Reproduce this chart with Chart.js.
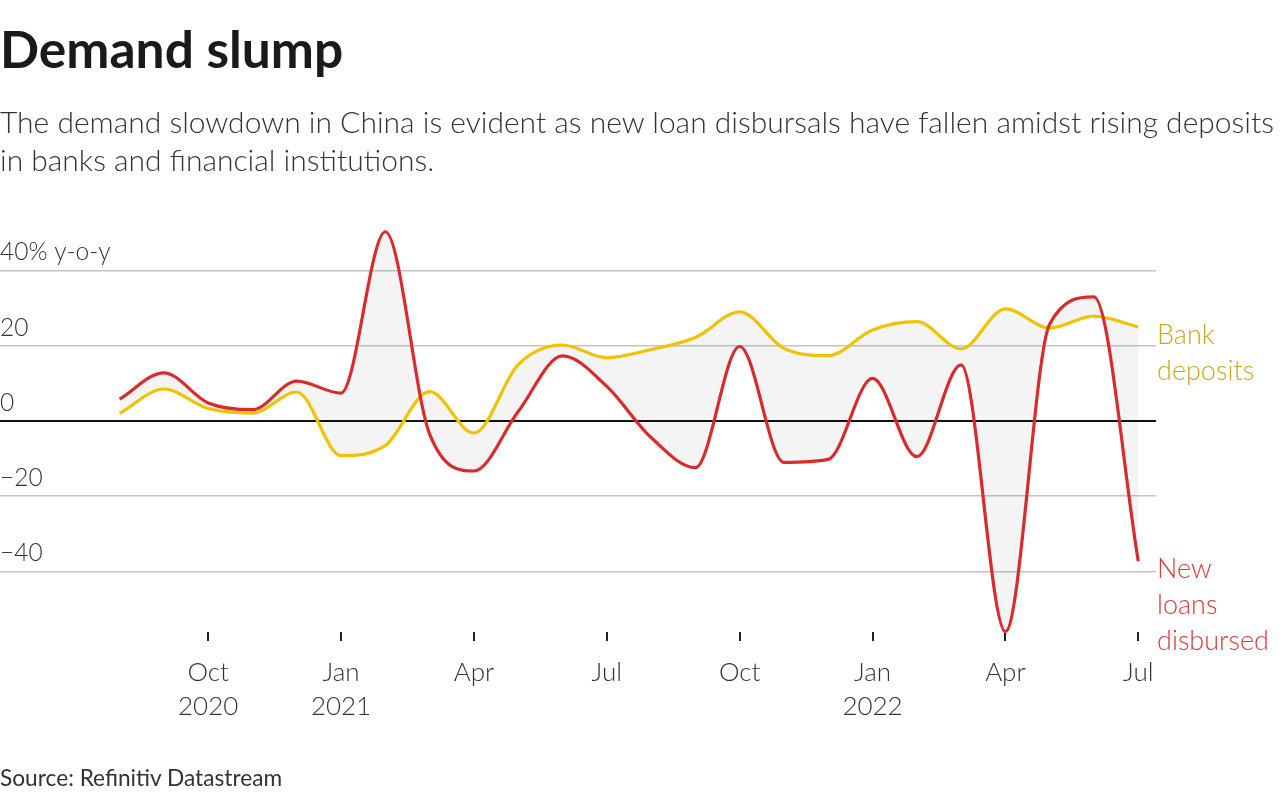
<!DOCTYPE html>
<html>
<head>
<meta charset="utf-8">
<script src="https://cdn.jsdelivr.net/npm/chart.js@4"></script>
<style>
    body { margin: 0; background: #fff; }
    #wrap { position: relative; width: 1288px; height: 800px; overflow: hidden; }
    #chart { position: absolute; left: 0; top: 0; }
    .txt { position: absolute; left: 0; font-family: "Lato", sans-serif; color: #222; white-space: nowrap; }
    #title { top: 17px; font-size: 51.5px; font-weight: 700; color: #1a1a1a; }
    #sub { top: 102px; font-size: 30px; font-weight: 300; line-height: 38px; color: #333; }
    #source { top: 764px; font-size: 22.7px; font-weight: 400; color: #333; }
</style>
</head>
<body>
<div id="wrap">
    <canvas id="chart" width="1288" height="800"></canvas>
    <div class="txt" id="title">Demand slump</div>
    <div class="txt" id="sub">The demand slowdown in China is evident as new loan disbursals have fallen amidst rising deposits<br>in banks and financial institutions.</div>
    <div class="txt" id="source">Source: Refinitiv Datastream</div>
</div>
<script>
// months Aug 2020 .. Jul 2022, % y-o-y
const months = [
    "2020-08", "2020-09", "2020-10", "2020-11", "2020-12",
    "2021-01", "2021-02", "2021-03", "2021-04", "2021-05", "2021-06",
    "2021-07", "2021-08", "2021-09", "2021-10", "2021-11", "2021-12",
    "2022-01", "2022-02", "2022-03", "2022-04", "2022-05", "2022-06", "2022-07",
];
const newLoans = [
    5.8, 12.8, 4.8, 3.0, 10.6,
    7.4, 50.3, -3.5, -13.3, 2.5, 17.3,
    9.2, -4.4, -12.4, 19.8, -11.0, -10.2,
    11.3, -9.5, 14.9, -56.0, 25.8, 33.0, -37.3,
];
const bankDeposits = [
    2.0, 8.5, 3.3, 2.1, 7.7,
    -9.2, -6.5, 7.8, -3.2, 15.0, 20.2,
    16.8, 19.0, 22.2, 29.0, 19.3, 17.4,
    24.2, 26.4, 19.2, 29.8, 24.7, 27.9, 25.0,
];
const xTickMonths = ["2020-10", "2021-01", "2021-04", "2021-07", "2021-10", "2022-01", "2022-04", "2022-07"];
const xTickLabels = [["Oct", "2020"], ["Jan", "2021"], ["Apr"], ["Jul"], ["Oct"], ["Jan", "2022"], ["Apr"], ["Jul"]];
const yTicks = [-40, -20, 0, 20, 40];

const RED = "#d92b2b";
const YELLOW = "#f2c200";

const toPoints = (arr) => arr.map((v, i) => ({ x: i, y: v }));

const endLabels = {
    id: "endLabels",
    afterDraw(chart) {
        const { ctx, chartArea } = chart;
        const y = chart.scales.y;
        ctx.save();
        ctx.font = "300 27px Lato";
        ctx.textAlign = "left";
        ctx.textBaseline = "middle";
        const put = (lines, val, color) => {
            const y0 = y.getPixelForValue(val) + 8;
            ctx.fillStyle = color;
            lines.forEach((t, i) => ctx.fillText(t, chartArea.right + 1, y0 + i * 36));
        };
        put(["Bank", "deposits"], bankDeposits[bankDeposits.length - 1], "#c8a820");
        put(["New", "loans", "disbursed"], newLoans[newLoans.length - 1], "#d83a3a");
        ctx.restore();
    },
};

new Chart(document.getElementById("chart"), {
    type: "line",
    data: {
        datasets: [
            {
                label: "New loans disbursed",
                data: toPoints(newLoans),
                borderColor: RED,
                borderWidth: 3.2,
                pointRadius: 0,
                cubicInterpolationMode: "monotone",
                clip: false,
                fill: { target: 1, above: "rgba(0,0,0,0.045)", below: "rgba(0,0,0,0.045)" },
            },
            {
                label: "Bank deposits",
                data: toPoints(bankDeposits),
                borderColor: YELLOW,
                borderWidth: 3.2,
                pointRadius: 0,
                cubicInterpolationMode: "monotone",
                clip: false,
                fill: false,
            },
        ],
    },
    plugins: [endLabels],
    options: {
        responsive: false,
        animation: false,
        devicePixelRatio: 1,
        layout: { padding: { top: 225, right: 132, left: 0, bottom: 0 } },
        plugins: {
            legend: { display: false },
            tooltip: { enabled: false },
            filler: { drawTime: "beforeDatasetsDraw" },
        },
        scales: {
            x: {
                type: "linear",
                min: -2.7,
                max: 23.4,
                afterFit: (s) => { s.height = 168; },
                afterBuildTicks: (s) => {
                    s.ticks = xTickMonths.map((m) => ({ value: months.indexOf(m) }));
                },
                border: { display: false },
                grid: { drawOnChartArea: false, drawTicks: true, tickLength: 9, color: "#222", lineWidth: 2 },
                ticks: {
                    autoSkip: false,
                    maxRotation: 0,
                    padding: 15,
                    color: "#333",
                    font: { family: "Lato", weight: 300, size: 26, lineHeight: 1.3 },
                    callback: (v) => {
                        const i = xTickMonths.indexOf(months[v]);
                        return i >= 0 ? xTickLabels[i] : "";
                    },
                },
            },
            y: {
                min: -56.1,
                max: 52.1,
                afterFit: (s) => { s.width = 0; },
                afterBuildTicks: (s) => { s.ticks = yTicks.map((v) => ({ value: v })); },
                border: { display: false },
                grid: {
                    drawTicks: false,
                    color: (c) => (c.tick && c.tick.value === 0 ? "#111" : "#c4c4c4"),
                    lineWidth: (c) => (c.tick && c.tick.value === 0 ? 2 : 1.5),
                },
                ticks: {
                    mirror: true,
                    padding: 0,
                    labelOffset: -18,
                    color: "#333",
                    font: { family: "Lato", weight: 300, size: 24.5 },
                    callback: (v) => (v === 40 ? "40% y-o-y" : v < 0 ? "\u2212" + Math.abs(v) : String(v)),
                },
            },
        },
    },
});
</script>
</body>
</html>
